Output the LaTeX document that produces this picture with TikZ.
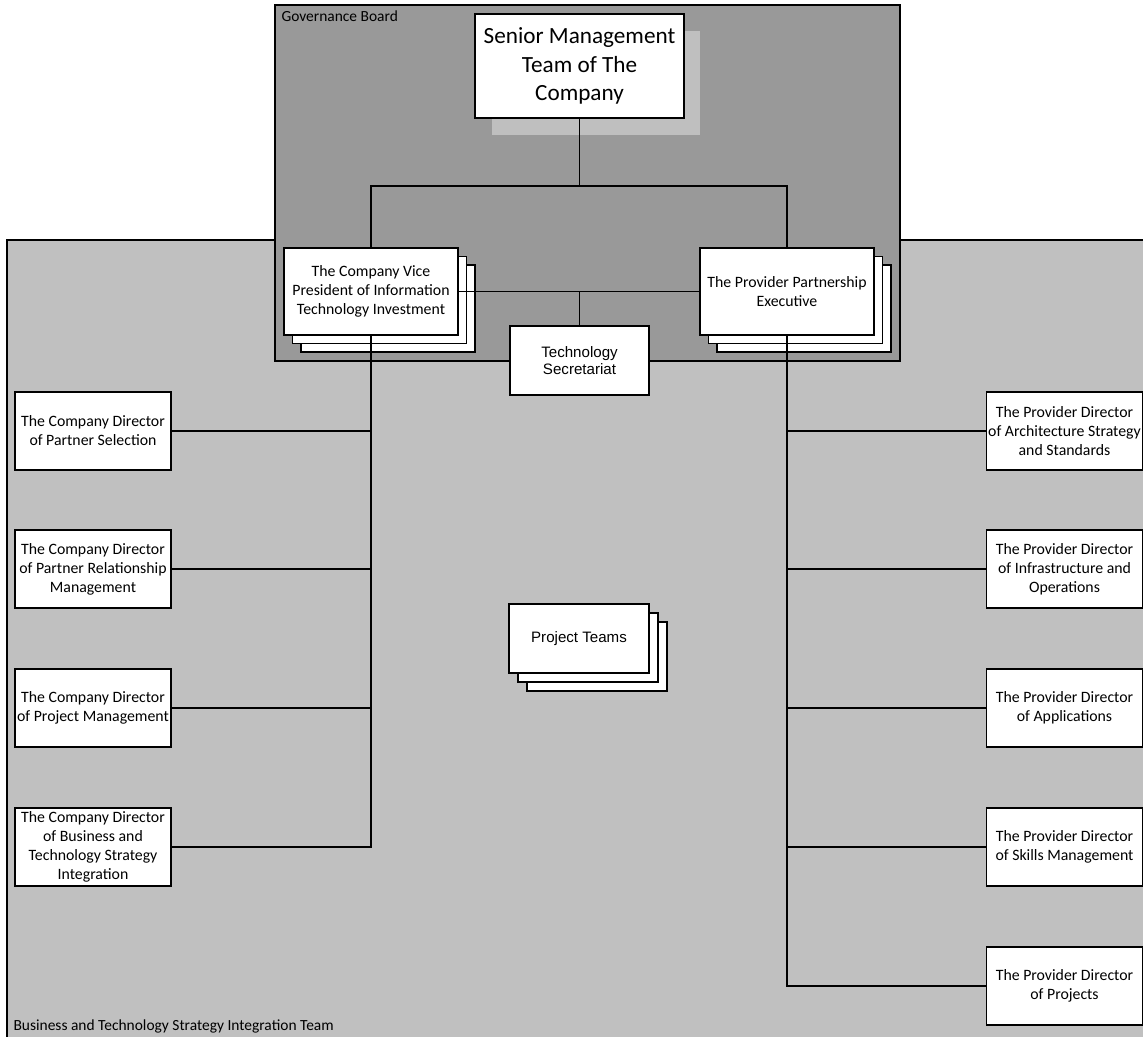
\documentclass[tikz,border=0pt]{standalone}
\usepackage{fontspec}
\setmainfont{Carlito}
\newfontfamily\arialfont{Liberation Sans}
\usetikzlibrary{positioning,calc,shadows}
\definecolor{boardgrey}{HTML}{999999}
\definecolor{teamgrey}{HTML}{C0C0C0}
\definecolor{shadegrey}{HTML}{BFBFBF}

\begin{document}
\begin{tikzpicture}[x=0.02cm, y=-0.02cm, line width=0.6pt]
\tikzset{
  region/.style={draw=black, line width=0.8pt},
  card/.style={draw=black, fill=white, align=center, inner sep=0.5pt, font=\fontsize{9}{10.8}\selectfont},
  dircard/.style={card, minimum width=3.12cm, minimum height=1.56cm},
  leadcard/.style={card, minimum width=3.48cm, minimum height=1.74cm},
  stack/.style={copy shadow={shadow xshift=2*#1, shadow yshift=-2*#1},
                copy shadow={shadow xshift=#1, shadow yshift=-#1}},
  stack/.default=0.17cm,
  arialcard/.style={card, font=\arialfont\fontsize{8.6}{10}\selectfont, minimum width=2.8cm, minimum height=1.38cm},
  link/.style={draw=black, line width=0.6pt},
  tag/.style={anchor=west, inner sep=0pt, font=\fontsize{8.8}{10}\selectfont}
}
\useasboundingbox (0,0) rectangle (1143,1036);

% team and board regions
\path[fill=teamgrey] (7,240) rectangle (1160,1060);
\draw[region] (7,1060) -- (7,240) -- (1160,240);
\node[tag] (teamlbl) at (13,1026) {Business and Technology Strategy Integration Team};
\draw[region, fill=boardgrey] (275,5) rectangle (900,361);
\node[tag] (boardlbl) at (281,16) {Governance Board};

% top of the tree
\node[card, minimum width=4.18cm, minimum height=2.08cm, font=\fontsize{13.2}{16.2}\selectfont,
  general shadow={fill=shadegrey, draw=none, shadow xshift=0.33cm, shadow yshift=-0.34cm}]
  (smt) at (579.5,66) {Senior Management\\Team of The\\Company};
\node[leadcard, stack] (vp) at (371,291.5) {The Company Vice\\President of Information\\Technology Investment};
\node[leadcard, stack] (ppe) at (787,291.5) {The Provider Partnership\\Executive};
\node[arialcard, minimum width=2.78cm] (secr) at (579.5,360.5) {Technology\\Secretariat};
\node[arialcard, stack=0.18cm] (teams) at (579,638.5) {Project Teams};

% company directors
\node[dircard] (cd1) at (93,431) {The Company Director\\of Partner Selection};
\node[dircard] (cd2) at (93,569) {The Company Director\\of Partner Relationship\\Management};
\node[dircard] (cd3) at (93,708) {The Company Director\\of Project Management};
\node[dircard] (cd4) at (93,847) {The Company Director\\of Business and\\Technology Strategy\\Integration};

% provider directors
\node[dircard] (pd1) at (1064.5,431) {The Provider Director\\of Architecture Strategy\\and Standards};
\node[dircard] (pd2) at (1064.5,569) {The Provider Director\\of Infrastructure and\\Operations};
\node[dircard] (pd3) at (1064.5,708) {The Provider Director\\of Applications};
\node[dircard] (pd4) at (1064.5,847) {The Provider Director\\of Skills Management};
\node[dircard] (pd5) at (1064.5,986) {The Provider Director\\of Projects};

% connectors
\coordinate (split) at (579.5,186);
\draw[link] (smt.south) -- (split);
\draw[link] (vp.north) |- (split) -| (ppe.north);
\draw[link] (vp.east) -- (ppe.west);
\draw[link] (vp.east -| secr.north) -- (secr.north);
\draw[link] (vp.south) |- (cd4.east);
\draw[link] (cd1.east) -- (cd1.east -| vp.south);
\draw[link] (cd2.east) -- (cd2.east -| vp.south);
\draw[link] (cd3.east) -- (cd3.east -| vp.south);
\draw[link] (ppe.south) |- (pd5.west);
\draw[link] (pd1.west) -- (pd1.west -| ppe.south);
\draw[link] (pd2.west) -- (pd2.west -| ppe.south);
\draw[link] (pd3.west) -- (pd3.west -| ppe.south);
\draw[link] (pd4.west) -- (pd4.west -| ppe.south);
\end{tikzpicture}
\end{document}
